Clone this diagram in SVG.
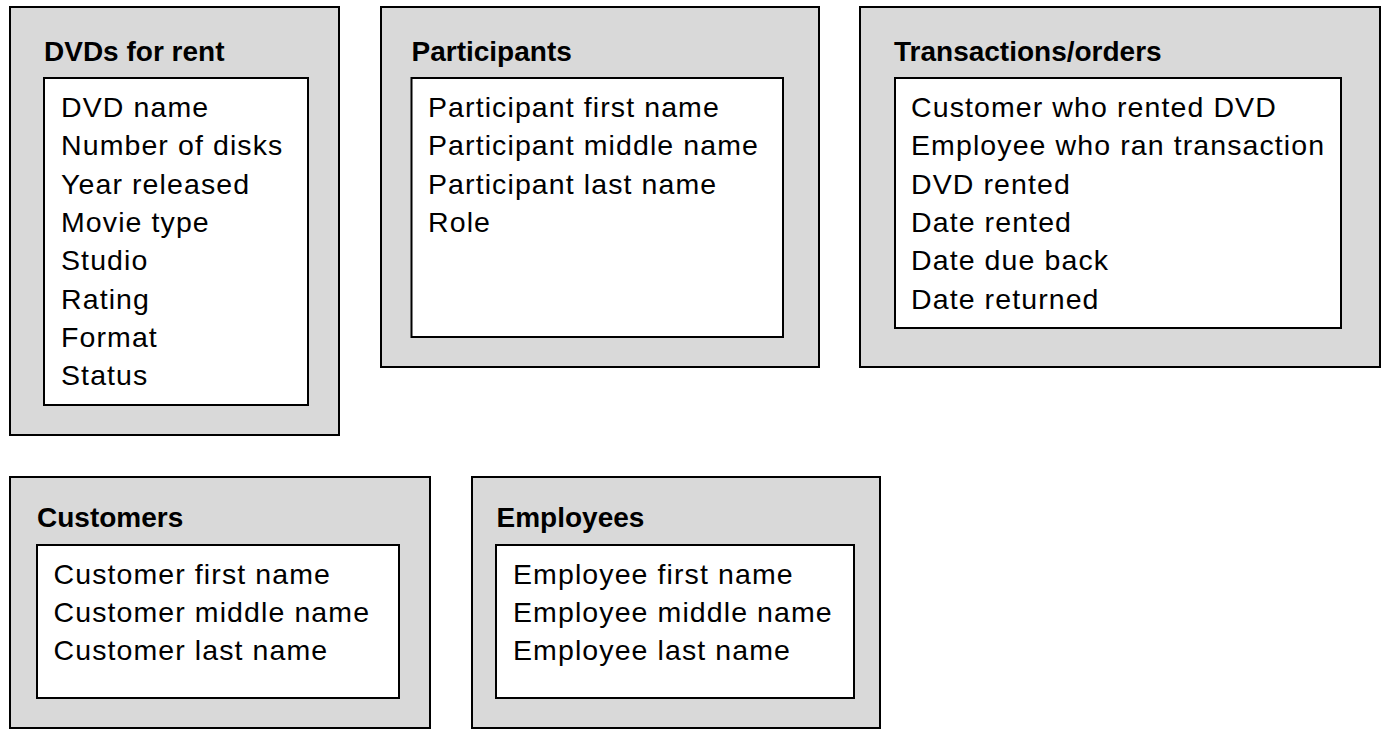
<svg xmlns="http://www.w3.org/2000/svg" width="1390" height="738" viewBox="0 0 1390 738">
  <style>
    .outer { fill: #d9d9d9; stroke: #000; stroke-width: 2; }
    .inner { fill: #fff; stroke: #000; stroke-width: 2; }
    .title { font-family: "Liberation Sans", Arial, sans-serif; font-weight: bold; font-size: 28px; fill: #000; }
    .item { font-family: "Liberation Sans", Arial, sans-serif; font-size: 28.5px; letter-spacing: 1.1px; fill: #000; }
  </style>
  <rect width="1390" height="738" fill="#fff"/>

  <g id="dvds">
    <rect class="outer" x="10" y="7" width="329" height="428"/>
    <text class="title" x="44" y="61">DVDs for rent</text>
    <rect class="inner" x="44" y="78" width="264" height="327"/>
    <text class="item" x="61" y="117">DVD name</text>
    <text class="item" x="61" y="155.3">Number of disks</text>
    <text class="item" x="61" y="193.6">Year released</text>
    <text class="item" x="61" y="231.9">Movie type</text>
    <text class="item" x="61" y="270.2">Studio</text>
    <text class="item" x="61" y="308.5">Rating</text>
    <text class="item" x="61" y="346.8">Format</text>
    <text class="item" x="61" y="385.1">Status</text>
  </g>

  <g id="participants">
    <rect class="outer" x="381" y="7" width="438" height="360"/>
    <text class="title" x="411.5" y="61">Participants</text>
    <rect class="inner" x="411.5" y="78" width="371.5" height="259"/>
    <text class="item" x="428" y="117">Participant first name</text>
    <text class="item" x="428" y="155.3">Participant middle name</text>
    <text class="item" x="428" y="193.6">Participant last name</text>
    <text class="item" x="428" y="231.9">Role</text>
  </g>

  <g id="transactions">
    <rect class="outer" x="860" y="7" width="520" height="360"/>
    <text class="title" x="894" y="61">Transactions/orders</text>
    <rect class="inner" x="895" y="78" width="446" height="250"/>
    <text class="item" x="911" y="117">Customer who rented DVD</text>
    <text class="item" x="911" y="155.3">Employee who ran transaction</text>
    <text class="item" x="911" y="193.6">DVD rented</text>
    <text class="item" x="911" y="231.9">Date rented</text>
    <text class="item" x="911" y="270.2">Date due back</text>
    <text class="item" x="911" y="308.5">Date returned</text>
  </g>

  <g id="customers">
    <rect class="outer" x="10" y="477" width="420" height="251"/>
    <text class="title" x="37" y="527">Customers</text>
    <rect class="inner" x="37" y="545" width="362" height="153"/>
    <text class="item" x="53.5" y="583.5">Customer first name</text>
    <text class="item" x="53.5" y="621.8">Customer middle name</text>
    <text class="item" x="53.5" y="660.1">Customer last name</text>
  </g>

  <g id="employees">
    <rect class="outer" x="472" y="477" width="408" height="251"/>
    <text class="title" x="496.5" y="527">Employees</text>
    <rect class="inner" x="496" y="545" width="358" height="153"/>
    <text class="item" x="513" y="583.5">Employee first name</text>
    <text class="item" x="513" y="621.8">Employee middle name</text>
    <text class="item" x="513" y="660.1">Employee last name</text>
  </g>

  <g id="connectors"></g>
</svg>
